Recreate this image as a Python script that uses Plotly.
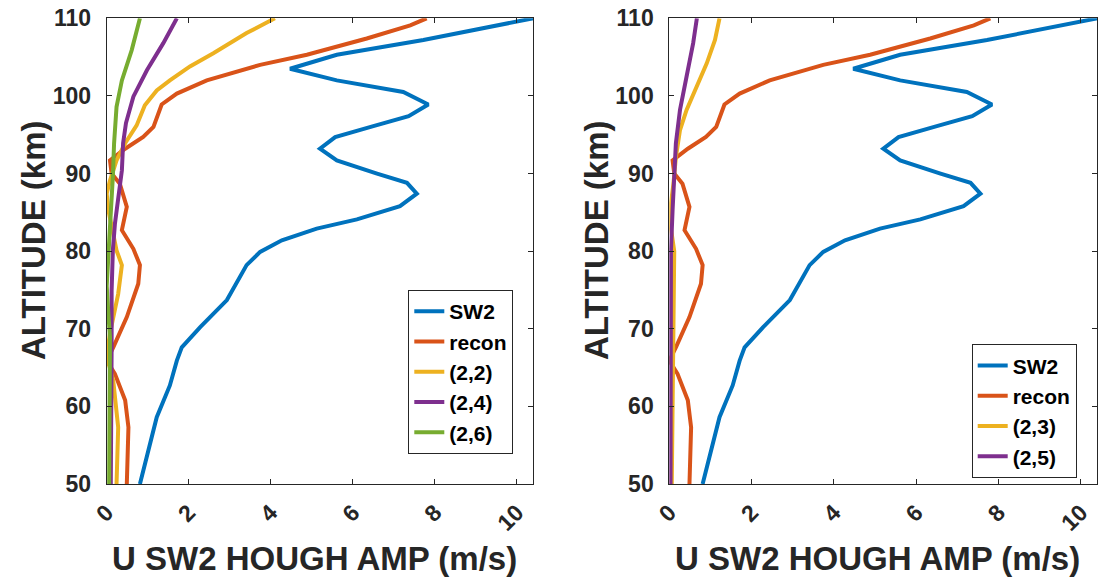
import plotly.graph_objects as go

# ---------------- data ----------------
sw2_alt = [110, 107.2, 105.3, 103.5, 102.0, 100.5, 98.9, 97.4, 96.1, 94.7, 93.2, 91.7, 90.0, 88.8,
           87.4, 85.8, 84.1, 82.9, 81.4, 79.9, 78.2, 73.7, 70.2, 67.6, 65.9, 62.7, 58.6, 50]
sw2_amp = [10.4, 7.72, 5.61, 4.47, 5.61, 7.23, 7.84, 7.36, 6.5, 5.57, 5.2, 5.61, 6.59, 7.32,
           7.56, 7.15, 6.1, 5.12, 4.27, 3.74, 3.41, 2.93, 2.28, 1.83, 1.71, 1.54, 1.22, 0.81]

recon_alt = [110, 109.1, 107.4, 105.3, 104.0, 102.0, 100.3, 98.9, 96.0, 94.7, 93.2, 91.7, 90.0, 88.7,
             85.7, 82.7, 80.3, 78.2, 75.8, 71.5, 67.6, 65.9, 64.2, 60.8, 57.3, 50]
recon_amp = [7.8, 7.4, 6.34, 4.88, 3.74, 2.44, 1.71, 1.34, 1.14, 0.89, 0.45, 0.08, 0.12, 0.32,
             0.49, 0.37, 0.65, 0.81, 0.77, 0.49, 0.16, 0.0, 0.2, 0.45, 0.53, 0.49]

m22_alt = [110, 108.1, 105.5, 103.8, 102.0, 100.7, 98.8, 96.2, 93.9, 91.7, 89.1, 87.4, 85.3, 81.8,
           80.1, 78.2, 74.5, 69.4, 66.5, 63.3, 57.3, 50]
m22_amp = [4.1, 3.41, 2.6, 2.03, 1.54, 1.22, 0.93, 0.73, 0.45, 0.24, 0.08, 0.0, 0.04, 0.16,
           0.24, 0.37, 0.28, 0.08, 0.0, 0.16, 0.28, 0.24]

m24_alt = [110, 106.8, 103.3, 99.9, 96.5, 93.9, 90.4, 87.0, 83.5, 80.1, 74.9, 67.6, 50]
m24_amp = [1.71, 1.38, 0.98, 0.65, 0.47, 0.40, 0.37, 0.28, 0.20, 0.15, 0.12, 0.12, 0.10]

m26_alt = [110, 105.9, 102.0, 98.6, 93.9, 89.6, 83.1, 79.0, 75.5, 72.0, 68.9, 50]
m26_amp = [0.81, 0.61, 0.37, 0.24, 0.18, 0.15, 0.08, 0.04, 0.0, 0.04, 0.08, 0.06]

m23_alt = [110, 107.2, 104.2, 101.2, 98.2, 95.6, 92.1, 88.7, 84.4, 80.0, 70.0, 60.0, 50]
m23_amp = [1.22, 1.11, 0.91, 0.67, 0.42, 0.26, 0.16, 0.10, 0.0, 0.12, 0.10, 0.08, 0.06]

m25_alt = [110, 106.8, 102.5, 98.2, 93.9, 89.6, 85.3, 80.1, 65.0, 50]
m25_amp = [0.67, 0.58, 0.42, 0.26, 0.16, 0.11, 0.08, 0.04, 0.03, 0.03]

left_series = [("SW2", sw2_amp, sw2_alt), ("recon", recon_amp, recon_alt),
               ("(2,2)", m22_amp, m22_alt), ("(2,4)", m24_amp, m24_alt), ("(2,6)", m26_amp, m26_alt)]
right_series = [("SW2", sw2_amp, sw2_alt), ("recon", recon_amp, recon_alt),
                ("(2,3)", m23_amp, m23_alt), ("(2,5)", m25_amp, m25_alt)]

colors = ["#0072BD", "#D95319", "#EDB120", "#7E2F8E", "#77AC30"]

x_ticks = [0, 2, 4, 6, 8, 10]
y_ticks = [50, 60, 70, 80, 90, 100, 110]
x_title = "U SW2 HOUGH AMP (m/s)"
y_title = "ALTITUDE (km)"

# ---------------- figure ----------------
W, H = 1099, 579
FONT = "Liberation Sans, Arial, sans-serif"
DARK = "#262626"
LW = 4

fig = go.Figure()
for i, (name, amp, alt) in enumerate(left_series):
    fig.add_trace(go.Scatter(x=amp, y=alt, mode="lines", name=name,
                             line=dict(color=colors[i], width=LW),
                             xaxis="x", yaxis="y", legend="legend"))
for i, (name, amp, alt) in enumerate(right_series):
    fig.add_trace(go.Scatter(x=amp, y=alt, mode="lines", name=name,
                             line=dict(color=colors[i], width=LW),
                             xaxis="x2", yaxis="y2", legend="legend2"))

def px_x(p):
    return p / W

def px_y(p):
    return 1 - p / H

axis_common = dict(showgrid=False, zeroline=False, showline=True, mirror="ticks",
                   linecolor=DARK, linewidth=1, ticks="inside", ticklen=5, tickwidth=1,
                   tickcolor=DARK, automargin=False,
                   tickfont=dict(family=FONT, size=23, color=DARK, weight="bold"))

xd1 = [px_x(106.7), px_x(533.3)]
xd2 = [px_x(669.3), px_x(1097.3)]
yd = [px_y(484), px_y(18.3)]

xaxis_cfg = dict(axis_common, range=[0, 10.4], tickvals=x_ticks, tickangle=-45,
                 ticklabelstandoff=5)
yaxis_cfg = dict(axis_common, range=[50, 110], tickvals=y_ticks, ticklabelstandoff=10)

legend_common = dict(bgcolor="white", bordercolor=DARK, borderwidth=1,
                     font=dict(family=FONT, size=21, color="black", weight="bold"),
                     xanchor="left", yanchor="top", xref="paper", yref="paper",
                     itemwidth=30)

fig.update_layout(
    width=W, height=H,
    margin=dict(l=0, r=0, t=0, b=0, autoexpand=False),
    paper_bgcolor="white", plot_bgcolor="white",
    xaxis=dict(xaxis_cfg, domain=xd1, anchor="y"),
    yaxis=dict(yaxis_cfg, domain=yd, anchor="x"),
    xaxis2=dict(xaxis_cfg, domain=xd2, anchor="y2"),
    yaxis2=dict(yaxis_cfg, domain=yd, anchor="x2"),
    legend=dict(legend_common, x=px_x(408.3), y=px_y(290)),
    legend2=dict(legend_common, x=px_x(971.7), y=px_y(344.3)),
    showlegend=True,
)

title_font = dict(family=FONT, size=33, color=DARK, weight="bold")
ann = []
for cx in (314.2, 877.0):
    ann.append(dict(text=x_title, x=px_x(cx), y=px_y(558), xref="paper", yref="paper",
                    xanchor="center", yanchor="middle", showarrow=False, font=title_font))
for cx in (34.0, 597.0):
    ann.append(dict(text=y_title, x=px_x(cx), y=px_y(240), xref="paper", yref="paper",
                    xanchor="center", yanchor="middle", showarrow=False, font=title_font,
                    textangle=-90))
fig.update_layout(annotations=ann)

fig.write_html("out.html", config={"displayModeBar": False},
               post_script="document.body.style.margin='0px';document.body.style.overflow='hidden';")
